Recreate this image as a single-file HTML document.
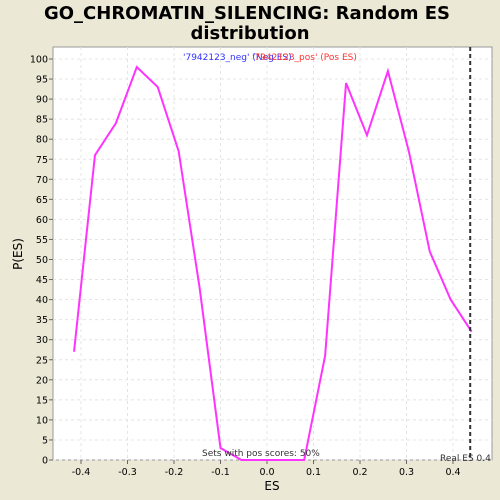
<!DOCTYPE html>
<html><head><meta charset="utf-8"><style>
html,body{margin:0;padding:0;overflow:hidden;background:#ece8d6;font-family:"DejaVu Sans","Liberation Sans",sans-serif;}
svg{display:block;}
</style></head><body>
<svg width="500" height="500" xmlns="http://www.w3.org/2000/svg">
<rect x="0" y="0" width="500" height="500" fill="#ece8d6"/>
<text x="247" y="19" text-anchor="middle" font-size="18" font-weight="bold">GO_CHROMATIN_SILENCING: Random ES</text>
<text x="250" y="39" text-anchor="middle" font-size="18" font-weight="bold">distribution</text>
<rect x="53" y="47" width="439" height="413" fill="#fff" stroke="#999"/>
<g id="grid"></g><g id="axes"></g><g id="series"></g>
<text x="183" y="60" font-size="9" fill="#3333ff">'7942123_neg' (Neg ES)</text>
<text x="252" y="60" font-size="9" fill="#ff3333">'7942123_pos' (Pos ES)</text>
<text x="202" y="456" font-size="9" fill="#333">Sets with pos scores: 50%</text>
<text x="440" y="461" font-size="9" fill="#333">Real ES 0.4</text>
<text x="272" y="490" text-anchor="middle" font-size="12">ES</text>
<text x="22" y="254" text-anchor="middle" font-size="12" transform="rotate(-90 22 254)">P(ES)</text>
</svg>
<script>
const xs=[-0.415,-0.37,-0.325,-0.28,-0.235,-0.19,-0.145,-0.1,-0.055,-0.01,0.035,0.08,0.125,0.17,0.215,0.26,0.305,0.35,0.395,0.44];
const ys=[27,76,84,98,93,77,43,3,0,0,0,0,26,94,81,97,77,52,40,32];
const xTicks=[-0.4,-0.3,-0.2,-0.1,0.0,0.1,0.2,0.3,0.4];
const yTicks=[0,5,10,15,20,25,30,35,40,45,50,55,60,65,70,75,80,85,90,95,100];
const realES=0.437;
const NS='http://www.w3.org/2000/svg';
const X=v=>267+v*465, Y=v=>460-v*4.01;
function mk(t,a,p){const e=document.createElementNS(NS,t);for(const k in a)e.setAttribute(k,a[k]);p.appendChild(e);return e;}
const g=document.getElementById('grid'),ax=document.getElementById('axes'),s=document.getElementById('series');
xTicks.forEach(v=>{
 const l=mk('line',{x1:X(v),x2:X(v),y1:47,y2:460,stroke:'#e4e4e4','stroke-dasharray':'3,3'},g);
 
 const t=mk('line',{x1:X(v),x2:X(v),y1:460,y2:464,stroke:'#666'},ax);
 
 const tx=mk('text',{x:X(v),y:475,'text-anchor':'middle','font-size':'9.5'},ax);tx.textContent=v.toFixed(1);
 
});
yTicks.forEach(v=>{
 const l=mk('line',{x1:53,x2:492,y1:Y(v),y2:Y(v),stroke:'#e4e4e4','stroke-dasharray':'3,3'},g);
 
 const t=mk('line',{x1:49,x2:53,y1:Y(v),y2:Y(v),stroke:'#666'},ax);
 
 const tx=mk('text',{x:48,y:Y(v)+3.5,'text-anchor':'end','font-size':'9.5'},ax);tx.textContent=v;
 
});
const pl=mk('polyline',{points:xs.map((x,i)=>X(x)+','+Y(ys[i])).join(' '),fill:'none',stroke:'#ff33ff','stroke-width':'2'},s);

const rl=mk('line',{x1:X(realES),x2:X(realES),y1:47,y2:460,stroke:'#333','stroke-width':'2','stroke-dasharray':'4,3'},s);

</script>
</body></html>
